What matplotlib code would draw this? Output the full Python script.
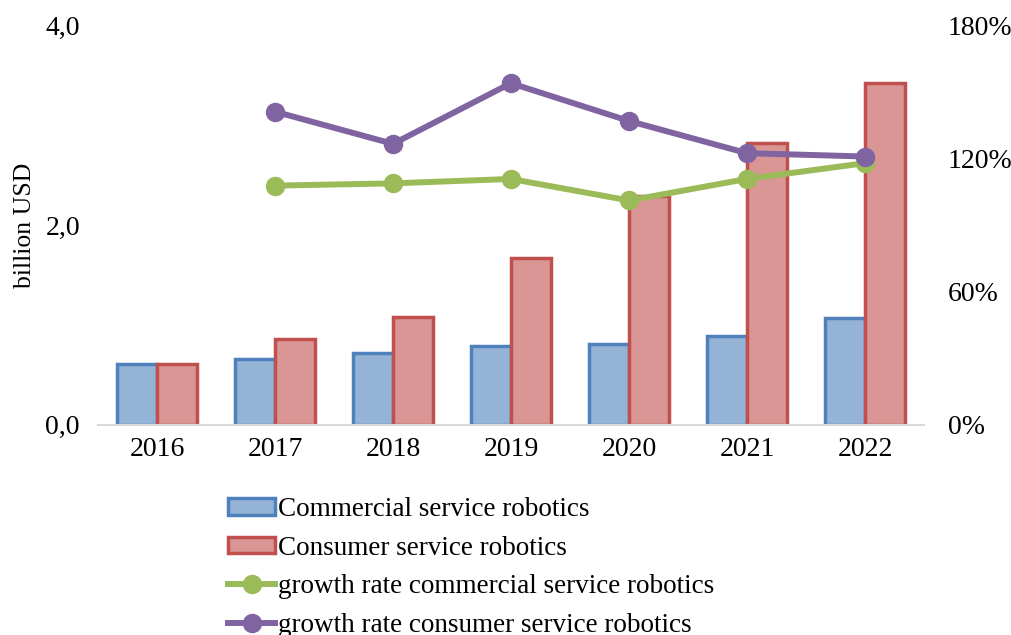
import numpy as np
import matplotlib.pyplot as plt
from matplotlib.ticker import FuncFormatter

plt.rcParams['font.family'] = ['Liberation Serif', 'DejaVu Serif']

years = ['2016', '2017', '2018', '2019', '2020', '2021', '2022']
commercial = [0.61, 0.66, 0.72, 0.79, 0.81, 0.89, 1.07]
consumer = [0.61, 0.86, 1.08, 1.67, 2.29, 2.82, 3.42]
growth_years = ['2017', '2018', '2019', '2020', '2021', '2022']
growth_commercial = [107.7, 108.7, 110.7, 101.0, 110.7, 117.8]
growth_consumer = [141.0, 126.5, 153.8, 136.8, 122.3, 120.8]

blue_face, blue_edge = '#95b3d7', '#4f81bd'
red_face, red_edge = '#d99694', '#c0504d'
green = '#9bbb59'
purple = '#8064a2'

fig = plt.figure(figsize=(10.12, 6.35), dpi=100)
ax = fig.add_axes([0.0968, 0.331, 0.8162, 0.6296])

x = np.arange(len(years))
w = 0.34
b1 = ax.bar(x - w/2, commercial, w, color=blue_face, edgecolor=blue_edge, linewidth=2.5,
            label='Commercial service robotics')
b2 = ax.bar(x + w/2, consumer, w, color=red_face, edgecolor=red_edge, linewidth=2.5,
            label='Consumer service robotics')

ax.set_xlim(-0.5, len(years) - 0.5)
ax.set_ylim(0, 4.0)
ax.set_yticks([0, 2, 4])
ax.yaxis.set_major_formatter(FuncFormatter(lambda v, p: f'{v:.1f}'.replace('.', ',')))
ax.set_xticks(x)
ax.set_xticklabels(years)
ax.tick_params(axis='both', length=0, labelsize=20)
ax.tick_params(axis='y', pad=13)
ax.tick_params(axis='x', pad=9)
for s in ['top', 'right', 'left']:
    ax.spines[s].set_visible(False)
ax.spines['bottom'].set_color('#d9d9d9')
ax.spines['bottom'].set_linewidth(1.5)
ax.set_ylabel('billion USD', fontsize=18.5)
ax.yaxis.set_label_coords(-0.075, 0.5)

ax2 = ax.twinx()
gx = [years.index(y) for y in growth_years]
l1, = ax2.plot(gx, growth_commercial, color=green, lw=4.3, marker='o', ms=13,
               label='growth rate commercial service robotics')
l2, = ax2.plot(gx, growth_consumer, color=purple, lw=4.3, marker='o', ms=13,
               label='growth rate consumer service robotics')
ax2.set_ylim(0, 180)
ax2.set_yticks([0, 60, 120, 180])
ax2.yaxis.set_major_formatter(FuncFormatter(lambda v, p: f'{v:.0f}%'))
ax2.tick_params(axis='y', length=0, labelsize=20, pad=17)
for s in ['top', 'right', 'left', 'bottom']:
    ax2.spines[s].set_visible(False)

fig.legend([b1, b2, l1, l2],
           [b1.get_label(), b2.get_label(), l1.get_label(), l2.get_label()],
           loc='upper left', bbox_to_anchor=(0.2253, 0.217), frameon=False,
           fontsize=19.5, handlelength=1.75, handleheight=0.55, handletextpad=0.1,
           labelspacing=0.5, borderpad=0, borderaxespad=0)

fig.savefig('out.png', dpi=100)
